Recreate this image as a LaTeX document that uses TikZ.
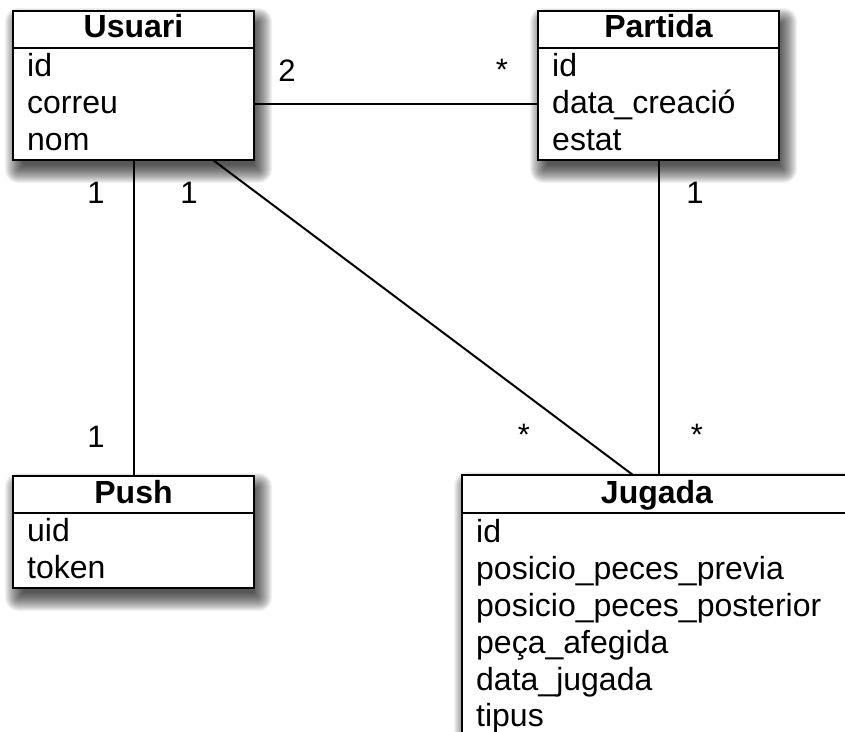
\documentclass[tikz,border=0pt]{standalone}
\usepackage{fontspec}
\setmainfont{Liberation Sans}
\usetikzlibrary{calc,backgrounds}
\begin{document}
\begin{tikzpicture}[x=1pt,y=-1pt,
  classbox/.style={draw=black, line width=2.6pt, fill=white, rectangle,
    inner sep=0pt, outer sep=0pt, anchor=north west},
  divider/.style={line width=2.6pt},
  shadowlayer/.style={fill=black, opacity=0.05},
  title/.style={font=\fontsize{32}{38}\selectfont\bfseries, anchor=base, inner sep=0pt},
  attr/.style={font=\fontsize{32}{38}\selectfont, anchor=base west, inner sep=0pt},
  mult/.style={font=\fontsize{31}{36}\selectfont, inner sep=0pt},
  assoc/.style={line width=2pt, draw=black}]
\useasboundingbox (0,0) rectangle (845,731);
\clip (0,0) rectangle (845,731);

% Usuari
\node[classbox, minimum width=241pt, minimum height=149pt] (usuari) at (13,11) {};
\draw[divider] ($(usuari.north west)+(0,37)$) -- ($(usuari.north east)+(0,37)$);
\node[title] (usuariT) at (133.5,37) {Usuari};
\node[attr] (usuariA1) at (27,76) {id};
\node[attr] (usuariA2) at (27,113) {correu};
\node[attr] (usuariA3) at (27,150) {nom};

% Partida
\node[classbox, minimum width=241pt, minimum height=149pt] (partida) at (538,11) {};
\draw[divider] ($(partida.north west)+(0,37)$) -- ($(partida.north east)+(0,37)$);
\node[title] (partidaT) at (658.5,37) {Partida};
\node[attr] (partidaA1) at (552,76) {id};
\node[attr] (partidaA2) at (552,113) {data\_creació};
\node[attr] (partidaA3) at (552,150) {estat};

% Push
\node[classbox, minimum width=241pt, minimum height=112pt] (push) at (13,476) {};
\draw[divider] ($(push.north west)+(0,37)$) -- ($(push.north east)+(0,37)$);
\node[title] (pushT) at (133.5,503) {Push};
\node[attr] (pushA1) at (27,541) {uid};
\node[attr] (pushA2) at (27,578) {token};

% Jugada
\node[classbox, minimum width=390pt, minimum height=300pt] (jugada) at (462,475) {};
\draw[divider] ($(jugada.north west)+(0,38)$) -- ($(jugada.north east)+(0,38)$);
\node[title] (jugadaT) at (657,503) {Jugada};
\node[attr] (jugadaA1) at (476,542) {id};
\node[attr] (jugadaA2) at (476,579) {posicio\_peces\_previa};
\node[attr] (jugadaA3) at (476,616) {posicio\_peces\_posterior};
\node[attr] (jugadaA4) at (476,653) {peça\_afegida};
\node[attr] (jugadaA5) at (476,690) {data\_jugada};
\node[attr] (jugadaA6) at (476,726) {tipus};

% Soft drop shadows under the class boxes, built from stacked translucent layers
\begin{scope}[on background layer]
  \fill[white] (0,0) rectangle (845,731);
  \foreach \b in {usuari,partida,push,jugada} {
    \foreach \r [evaluate=\r as \rc using {max(\r,0)+0.5}] in {-5,...,13} {
      \fill[shadowlayer, rounded corners=\rc pt]
        ($(\b.north west)+(5-\r,10-\r)$) rectangle ($(\b.south east)+(5+\r,10+\r)$);
    }
  }
\end{scope}

% Associations
\draw[assoc] ($(usuari.north east)+(0,93)$) -- ($(partida.north west)+(0,93)$);
\draw[assoc] (usuari.south) -- (push.north);
\draw[assoc] ($(usuari.south west)+(200,0)$) -- ($(jugada.north west)+(171,0)$);
\draw[assoc] (partida.south) -- (partida.south |- jugada.north);

% Multiplicities
\node[mult] (m1) at (287,71) {2};
\node[mult] (m2) at (502,70) {*};
\node[mult] (m3) at (96,193) {1};
\node[mult] (m4) at (189,193) {1};
\node[mult] (m5) at (695,193) {1};
\node[mult] (m6) at (96,437) {1};
\node[mult] (m7) at (524,435) {*};
\node[mult] (m8) at (697,435) {*};
\end{tikzpicture}
\end{document}
